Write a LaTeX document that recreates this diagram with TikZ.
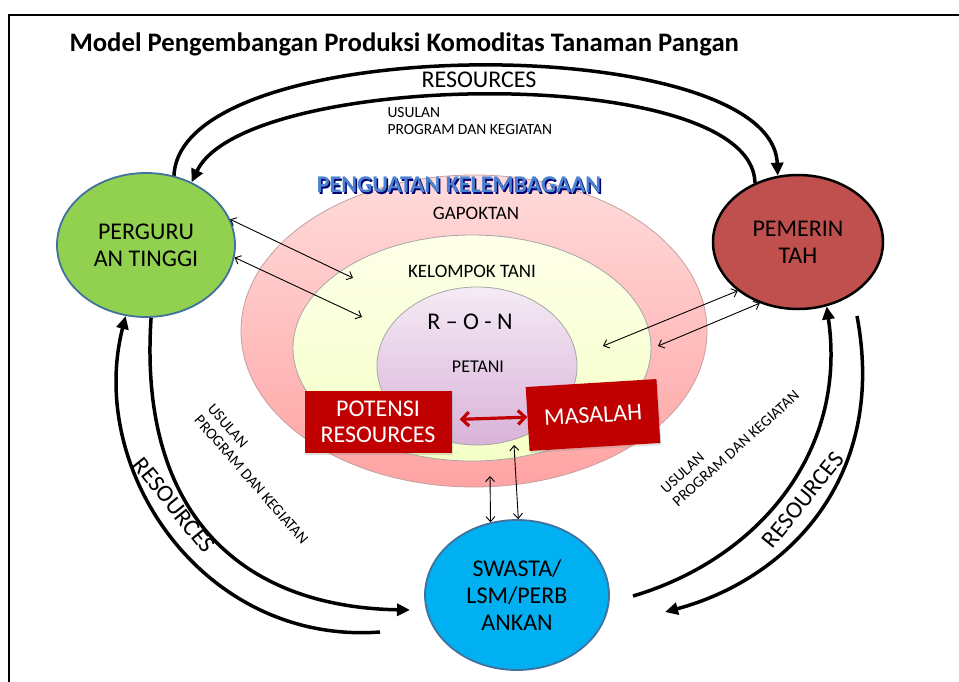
\documentclass[tikz,border=0pt]{standalone}
\usepackage{fontspec}
\setmainfont{Carlito}
\usepackage{tikz}
\usetikzlibrary{arrows.meta}
\usetikzlibrary{shapes.geometric}
\usetikzlibrary{shadows}
\definecolor{pgGreen}{HTML}{92D050}
\definecolor{pgBlue}{HTML}{00B0F0}
\definecolor{pgRed}{HTML}{C0504D}
\definecolor{pgEdge}{HTML}{41719C}
\definecolor{boxRed}{HTML}{C00000}
\definecolor{kelBlue}{HTML}{4A82CF}
\newcommand\fsz[1]{\fontsize{#1}{#1}\selectfont}
\tikzset{every edge/.style={draw},
  actor/.style={ellipse, draw=pgEdge, line width=1.8pt, inner sep=0pt, align=center,
    font=\fontsize{24}{27}\selectfont},
  ring/.style={ellipse, inner sep=0pt, line width=0.8pt},
  redbox/.style={rectangle, fill=boxRed, text=white, align=center, inner sep=0pt,
    font=\fontsize{24}{26}\selectfont,
    drop shadow={shadow xshift=1pt, shadow yshift=-2pt, opacity=0.25}},
  flow/.style={line width=3.5pt, -{Triangle[length=13pt,width=12pt]}},
  duo/.style={line width=0.9pt, {Straight Barb[length=5pt,width=9pt]}-{Straight Barb[length=5pt,width=9pt]}},
  note/.style={font=\fontsize{15.5}{17.5}\selectfont, align=left}}
\begin{document}
\begin{tikzpicture}[x=1pt,y=-1pt]
    \path[use as bounding box] (0,0) rectangle (959,681);
    \draw[line width=2.5pt] (9,700) -- (9,15) -- (975,15);

    \node[anchor=west, font=\bfseries\fsz{26.7}] (T) at (66,44) {Model Pengembangan Produksi Komoditas Tanaman Pangan};

    % kelembagaan
    \node[ring, minimum width=466, minimum height=312, draw=red!25!gray!60, top color=red!14, bottom color=red!36] (GAP) at (474,331) {};
    \node[ring, minimum width=358, minimum height=226, draw=gray!70, top color=green!7!yellow!9, bottom color=green!20!yellow!22] (KT) at (472,348) {};
    \node[ring, minimum width=200, minimum height=158, draw=gray!70, top color=violet!8, bottom color=violet!30] (PT) at (477,366) {};
    \node[font=\fsz{19}] (gl) at (476,213) {GAPOKTAN};
    \node[font=\fsz{19}] (kl) at (472,271) {KELOMPOK TANI};
    \node[font=\fsz{24}] (rl) at (470,322) {R -- O - N};
    \node[font=\fsz{18}] (pl) at (478,367) {PETANI};
    \node[font=\bfseries\fsz{24}, text=blue!45!black] at (460.5,186.5) {PENGUATAN KELEMBAGAAN};
    \node[font=\bfseries\fsz{24}, text=kelBlue] (KB) at (459,185) {PENGUATAN KELEMBAGAAN};

    \node[redbox, minimum width=147, minimum height=62] (PR) at (378,422) {POTENSI\\RESOURCES};
    \node[redbox, minimum width=131, minimum height=64, rotate=3.5] (MS) at (593,415) {MASALAH};
    \draw (PR) edge[line width=3.2pt, boxRed, shorten <=8pt, {Straight Barb[length=7pt,width=14pt]}-{Straight Barb[length=7pt,width=14pt]}] (MS);

    % actors
    \node[actor, fill=pgGreen, minimum width=178, minimum height=144] (P) at (146,245) {PERGURU\\AN TINGGI};
    \node[actor, fill=pgRed, draw=black, line width=2.5pt, minimum width=170, minimum height=134] (M) at (798,242) {PEMERIN\\TAH};
    \node[actor, fill=pgBlue, minimum width=184, minimum height=150] (S) at (517,595) {SWASTA/\\LSM/PERB\\ANKAN};

    \coordinate (a1) at (353,278);
    \coordinate (a2) at (362,317);
    \coordinate (b1) at (603,346);
    \coordinate (b2) at (658,346);
    \coordinate (c1) at (490,476);
    \coordinate (c2) at (514,445);
    \draw (P.17) edge[duo] (a1);
    \draw (P.-8) edge[duo] (a2);
    \draw (M.219) edge[duo] (b1);
    \draw (M.238) edge[duo] (b2);
    \draw (S.110) edge[duo] (c1);
    \draw (S.89) edge[duo] (c2);

    % resources / usulan
    \coordinate (Lin) at (410,610);
    \coordinate (Lout) at (380,632);
    \coordinate (Rin) at (633,596);
    \coordinate (Rout) at (665,612);
    \coordinate (Mout) at (857,316);
    \draw[flow] (P.68) .. controls (180,30) and (772,30) .. (M.107);
    \draw[flow] (M.126) .. controls (752,62) and (245,70) .. (P.54);
    \draw[flow] (P.274) .. controls (138,515) and (242,607) .. (Lin);
    \draw[flow] (Lout) .. controls (205,645) and (86,472) .. (P.254);
    \draw[flow] (Rin) .. controls (755,560) and (848,455) .. (M.294);
    \draw[flow] (Mout) .. controls (888,480) and (785,580) .. (Rout);

    \node[font=\fsz{24}] (r1) at (479,80) {RESOURCES};
    \node[font=\fsz{24}, rotate=-51] (r2) at (174,505) {RESOURCES};
    \node[font=\fsz{24}, rotate=51] (r3) at (803,500) {RESOURCES};
    \node[note, anchor=west] (u1) at (384,121) {USULAN\\PROGRAM DAN KEGIATAN};
    \node[note, rotate=-49] (u2) at (258,474) {USULAN\\PROGRAM DAN KEGIATAN};
    \node[note, rotate=42] (u3) at (730,442) {USULAN\\PROGRAM DAN KEGIATAN};
\end{tikzpicture}
\end{document}
